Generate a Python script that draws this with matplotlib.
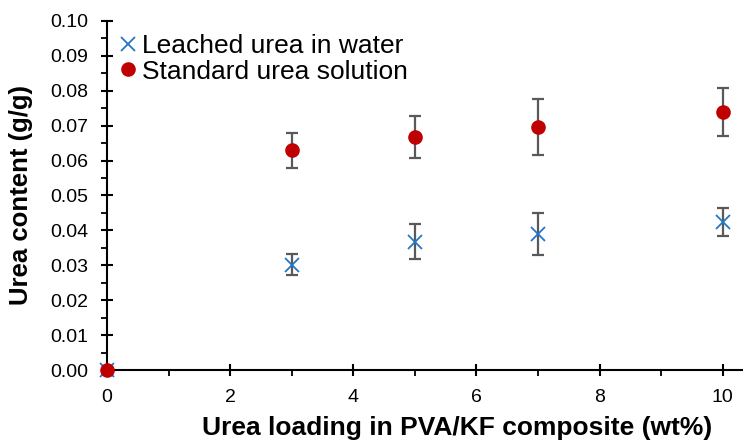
import numpy as np
import matplotlib.pyplot as plt
from matplotlib.ticker import MultipleLocator

plt.rcParams['font.family'] = ['Liberation Sans', 'DejaVu Sans']

# urea loading (wt%) and measured urea content (g/g)
loading = [0, 3, 5, 7, 10]
leached = [0.0, 0.0301, 0.0367, 0.0390, 0.0424]
leached_err = [0.0, 0.0030, 0.0050, 0.0060, 0.0040]
standard = [0.0, 0.0630, 0.0667, 0.0696, 0.0739]
standard_err = [0.0, 0.0050, 0.0060, 0.0080, 0.0070]

blue = '#2277C6'
red = '#C00000'
grey = '#595959'

fig = plt.figure(figsize=(7.43, 4.45), dpi=100)
ax = fig.add_axes([0.144, 0.1685, 0.856, 0.7845])

# error bars first, markers on top
for y, err in [(leached, leached_err), (standard, standard_err)]:
    ax.errorbar(loading, y, yerr=err, fmt='none', ecolor=grey,
                elinewidth=1.6, capsize=4.5, capthick=1.6, zorder=2)

ax.plot(loading, leached, 'x', color=blue, markersize=9.5, markeredgewidth=1.3,
        label='Leached urea in water', clip_on=False, zorder=3)
ax.plot(loading, standard, 'o', color=red, markersize=9.5,
        label='Standard urea solution', clip_on=False, zorder=4)

ax.set_xlim(0, 10.33)
ax.set_ylim(0, 0.10)
ax.xaxis.set_major_locator(MultipleLocator(2))
ax.xaxis.set_minor_locator(MultipleLocator(1))
ax.yaxis.set_major_locator(MultipleLocator(0.01))
ax.yaxis.set_minor_locator(MultipleLocator(0.005))
ax.yaxis.set_major_formatter(plt.FormatStrFormatter('%.2f'))

for side in ['top', 'right']:
    ax.spines[side].set_visible(False)
for side in ['left', 'bottom']:
    ax.spines[side].set_linewidth(1.5)

ax.tick_params(which='major', direction='inout', length=9, width=1.5,
               labelsize=14, pad=9)
ax.tick_params(which='minor', direction='out', length=4, width=1.3)

ax.set_xlabel('Urea loading in PVA/KF composite (wt%)', fontsize=19,
              fontweight='bold')
ax.set_ylabel('Urea content (g/g)', fontsize=18.5, fontweight='bold')
ax.xaxis.set_label_coords(0.55, -0.132)
ax.yaxis.set_label_coords(-0.117, 0.5)

ax.legend(loc='upper left', frameon=False, fontsize=19,
          handletextpad=0.05, handlelength=1.0, borderaxespad=0.0,
          labelspacing=0.05, borderpad=0.0, bbox_to_anchor=(0.012, 0.962))

fig.savefig('out.png', dpi=100)
